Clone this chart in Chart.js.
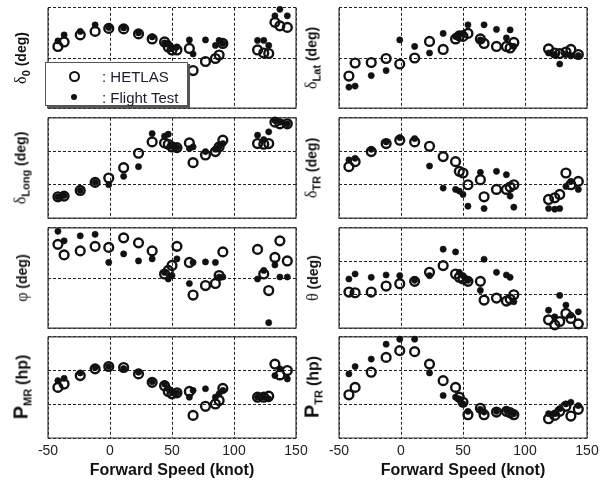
<!DOCTYPE html>
<html>
<head>
<meta charset="utf-8">
<script src="https://cdn.jsdelivr.net/npm/chart.js@4.4.1/dist/chart.umd.min.js"></script>
<style>
  body { margin: 0; background: #fff; }
  #fig { position: relative; width: 607px; height: 483px; overflow: hidden; font-family: "Liberation Sans", Arial, Helvetica, sans-serif; }
  .panel { position: absolute; }
  .ylab { position: absolute; transform: translate(-50%, -50%) rotate(-90deg); white-space: nowrap; color: #111; font-weight: bold; font-size: 14px; line-height: 1; }
  .ylab .sym { font-family: "Liberation Serif", "DejaVu Serif", serif; font-weight: normal; font-size: 16px; }
  .ylab .big { font-size: 20px; }
  .ylab sub { font-size: 11px; vertical-align: -4px; }
  .ylab .unit-hp { font-size: 16px; }
  #legend { position: absolute; left: 45px; top: 62px; width: 141px; height: 42px; background: #fff; border: 1px solid #555; box-shadow: 2px 2px 0 #555; }
  #legend .mk { position: absolute; border-radius: 50%; box-sizing: border-box; }
  #legend .ring { left: 23px; top: 8px; width: 11px; height: 11px; border: 2.4px solid #111; }
  #legend .dot { left: 25px; top: 31px; width: 6px; height: 6px; background: #111; }
  #legend .txt { position: absolute; left: 56px; font-size: 15px; color: #1c1c2c; line-height: 1; }
</style>
</head>
<body>
<div id="fig"></div>
<script>
// forward speed of each test condition (knot)
const speeds = [-42, -37, -24, -12, -1, 11, 23, 34, 44, 47, 50, 54, 64, 67, 77, 85, 88, 91, 119, 124, 128, 133, 137, 143];
const speedTicks = [-50, 0, 50, 100, 150];

// values in grid units (no numbers printed on the y axes)
const delta0Hetlas = [1.23, 1.32, 1.46, 1.53, 1.59, 1.58, 1.48, 1.38, 1.32, 1.22, 1.16, 1.16, 1.19, 0.75, 0.93, 0.99, 1.06, 1.29, 1.16, 1.10, 1.09, 1.71, 1.64, 1.61];
const delta0Flight = [1.34, 1.46, 1.53, 1.66, 1.61, 1.60, 1.50, 1.42, 1.30, 1.29, 1.19, 1.22, 1.36, 1.08, 1.36, 1.25, 1.35, 1.29, 1.35, 1.35, 1.25, 1.84, 1.97, 1.84];

const deltaLatHetlas = [0.64, 0.90, 0.91, 0.99, 0.88, 1.00, 1.33, 1.17, 1.38, 1.44, 1.43, 1.49, 1.38, 1.29, 1.23, 1.23, 1.20, 1.31, 1.18, 1.10, 1.09, 1.12, 1.17, 1.07];
const deltaLatFlight = [0.42, 0.44, 0.65, 0.75, 1.36, 1.23, 1.10, 1.49, 1.43, 1.46, 1.49, 1.66, 1.36, 1.66, 1.57, 1.40, 1.56, 1.23, 1.10, 1.07, 0.88, 1.07, 1.04, 1.05];

const deltaLongHetlas = [0.64, 0.66, 0.83, 1.07, 1.20, 1.51, 1.94, 2.28, 2.25, 2.21, 2.13, 2.11, 2.25, 1.66, 1.89, 1.99, 2.13, 2.33, 2.23, 2.21, 2.23, 2.87, 2.82, 2.82];
const deltaLongFlight = [0.64, 0.68, 0.83, 1.07, 1.00, 1.25, 1.54, 2.53, 2.45, 2.51, 2.15, 2.11, 2.08, 2.13, 1.99, 2.06, 2.13, 2.23, 2.48, 2.35, 2.58, 2.92, 2.87, 2.82];

const deltaTrHetlas = [1.54, 1.69, 1.99, 2.23, 2.33, 2.28, 2.15, 1.84, 1.69, 1.40, 1.35, 1.00, 1.15, 0.64, 0.86, 0.86, 0.93, 1.00, 0.56, 0.61, 0.71, 1.35, 1.00, 1.10];
const deltaTrFlight = [1.74, 1.79, 2.06, 2.28, 2.41, 2.38, 1.56, 0.90, 0.86, 0.81, 0.71, 0.36, 1.37, 0.29, 1.40, 1.30, 0.66, 0.33, 0.29, 0.27, 0.29, 0.95, 1.10, 0.86];

const phiHetlas = [1.67, 1.46, 1.54, 1.63, 1.61, 1.80, 1.70, 1.54, 1.08, 1.15, 1.25, 1.63, 1.31, 0.66, 0.85, 0.89, 1.05, 1.52, 1.57, 1.08, 0.75, 1.41, 1.74, 1.34];
const phiFlight = [1.93, 1.74, 1.84, 1.87, 1.31, 1.48, 1.34, 1.38, 1.11, 0.98, 1.05, 1.38, 0.89, 1.31, 1.32, 1.31, 1.02, 1.02, 0.98, 1.15, 0.11, 1.26, 1.02, 1.02];

const thetaHetlas = [1.08, 1.06, 1.08, 1.26, 1.33, 1.40, 1.67, 1.87, 1.62, 1.52, 1.47, 1.40, 1.40, 0.84, 0.90, 0.81, 0.87, 1.00, 0.25, 0.10, 0.20, 0.44, 0.29, 0.13];
const thetaFlight = [1.47, 1.62, 1.52, 1.59, 1.57, 1.43, 1.57, 2.36, 2.28, 1.67, 1.57, 1.43, 1.13, 2.06, 1.67, 1.59, 1.52, 0.79, 0.54, 0.34, 0.98, 0.69, 0.39, 0.49];

const pmrHetlas = [1.50, 1.60, 1.85, 2.05, 2.12, 2.09, 1.90, 1.65, 1.55, 1.38, 1.31, 1.34, 1.38, 0.67, 0.94, 1.01, 1.11, 1.47, 1.21, 1.21, 1.24, 2.19, 1.87, 2.00];
const pmrFlight = [1.70, 1.77, 1.93, 2.09, 2.12, 2.06, 1.95, 1.67, 1.60, 1.46, 1.36, 1.34, 1.21, 1.41, 1.46, 1.21, 1.31, 1.41, 1.21, 1.21, 1.16, 1.85, 2.05, 1.75];

const ptrHetlas = [1.28, 1.50, 1.95, 2.39, 2.59, 2.56, 2.19, 1.70, 1.50, 1.21, 1.06, 0.69, 0.88, 0.69, 0.77, 0.79, 0.75, 0.69, 0.57, 0.67, 0.79, 0.94, 0.65, 0.85];
const ptrFlight = [1.90, 2.12, 2.34, 2.78, 2.93, 2.93, 1.93, 1.26, 1.21, 1.16, 1.01, 0.79, 0.85, 0.77, 0.79, 0.82, 0.77, 0.72, 0.72, 0.72, 0.87, 1.01, 1.06, 0.96];

const xTitle = "Forward Speed (knot)";
const legendLabels = ["HETLAS", "Flight Test"];

const panels = [
  { row: 0, col: 0, yMax: 2, label: '<span class="sym">δ</span><sub>0</sub> (deg)', hetlas: delta0Hetlas, flight: delta0Flight },
  { row: 0, col: 1, yMax: 2, label: '<span class="sym">δ</span><sub>Lat</sub> (deg)', hetlas: deltaLatHetlas, flight: deltaLatFlight },
  { row: 1, col: 0, yMax: 3, label: '<span class="sym">δ</span><sub>Long</sub> (deg)', hetlas: deltaLongHetlas, flight: deltaLongFlight },
  { row: 1, col: 1, yMax: 3, label: '<span class="sym">δ</span><sub>TR</sub> (deg)', hetlas: deltaTrHetlas, flight: deltaTrFlight },
  { row: 2, col: 0, yMax: 2, label: '<span class="sym">φ</span> (deg)', hetlas: phiHetlas, flight: phiFlight },
  { row: 2, col: 1, yMax: 3, label: '<span class="sym">θ</span> (deg)', hetlas: thetaHetlas, flight: thetaFlight },
  { row: 3, col: 0, yMax: 3, label: '<span class="big">P</span><sub>MR</sub> <span class="unit-hp">(hp)</span>', hetlas: pmrHetlas, flight: pmrFlight },
  { row: 3, col: 1, yMax: 3, label: '<span class="big">P</span><sub>TR</sub> <span class="unit-hp">(hp)</span>', hetlas: ptrHetlas, flight: ptrFlight }
];

const colLeft = [48, 339];
const rowTop = [7, 117, 227, 336];
const plotW = 248, plotH = 102;
const padX = 20, padY = 6, axisH = 45;
const labelX = [22, 313];

// solid frame around the plot area (top row keeps its dashed top line)
const boxPlugin = {
  id: "box",
  beforeDatasetsDraw(chart, args, opts) {
    const { ctx, chartArea: a } = chart;
    ctx.save();
    ctx.strokeStyle = "#3a3a3a";
    ctx.lineWidth = 1.2;
    ctx.beginPath();
    ctx.moveTo(a.left, a.top);
    ctx.lineTo(a.left, a.bottom);
    ctx.lineTo(a.right, a.bottom);
    ctx.lineTo(a.right, a.top);
    if (!opts.openTop) ctx.lineTo(a.left, a.top);
    ctx.stroke();
    ctx.restore();
  }
};

function toPoints(ys) {
  return speeds.map((s, i) => ({ x: s, y: ys[i] }));
}

function buildPanel(p) {
  const fig = document.getElementById("fig");
  const bottomRow = p.row === 3;
  const wrap = document.createElement("div");
  wrap.className = "panel";
  wrap.style.left = (colLeft[p.col] - padX) + "px";
  wrap.style.top = (rowTop[p.row] - padY) + "px";
  wrap.style.width = (plotW + 2 * padX) + "px";
  wrap.style.height = (plotH + padY + (bottomRow ? axisH : padY)) + "px";
  const canvas = document.createElement("canvas");
  wrap.appendChild(canvas);
  fig.appendChild(wrap);

  const lab = document.createElement("div");
  lab.className = "ylab";
  lab.innerHTML = p.label;
  lab.style.left = labelX[p.col] + "px";
  lab.style.top = (rowTop[p.row] + plotH / 2) + "px";
  fig.appendChild(lab);

  new Chart(canvas.getContext("2d"), {
    type: "scatter",
    data: {
      datasets: [
        {
          label: legendLabels[1],
          data: toPoints(p.flight),
          pointStyle: "circle",
          pointRadius: 3.1,
          pointBorderWidth: 0.6,
          pointBackgroundColor: "#111",
          pointBorderColor: "#111",
          clip: false
        },
        {
          label: legendLabels[0],
          data: toPoints(p.hetlas),
          pointStyle: "circle",
          pointRadius: 4.4,
          pointBorderWidth: 2.4,
          pointBackgroundColor: "rgba(0,0,0,0)",
          pointBorderColor: "#111",
          clip: false
        }
      ]
    },
    options: {
      responsive: true,
      maintainAspectRatio: false,
      animation: false,
      events: [],
      layout: { padding: { left: padX, right: padX, top: padY, bottom: bottomRow ? 0 : padY } },
      plugins: {
        legend: { display: false },
        tooltip: { enabled: false },
        box: { openTop: p.row === 0 }
      },
      scales: {
        x: {
          type: "linear",
          min: -50,
          max: 150,
          afterBuildTicks: s => { s.ticks = speedTicks.map(v => ({ value: v })); },
          grid: { color: "#222", lineWidth: 1, drawTicks: false },
          border: { display: false, dash: [3, 2] },
          ticks: { display: bottomRow, padding: 5, color: "#222", font: { size: 14, family: "'Liberation Sans', Arial" }, maxRotation: 0, autoSkip: false },
          title: { display: bottomRow, text: xTitle, color: "#111", font: { size: 16, weight: "bold", family: "'Liberation Sans', Arial" }, padding: { top: 0, bottom: 3 } },
          afterFit: s => { s.height = bottomRow ? axisH : 0; }
        },
        y: {
          min: 0,
          max: p.yMax,
          ticks: { display: false, stepSize: 1 },
          grid: { color: "#222", lineWidth: 1, drawTicks: false },
          border: { display: false, dash: [3, 2] },
          afterFit: s => { s.width = 0; }
        }
      }
    },
    plugins: [boxPlugin]
  });
}

function buildLegend() {
  const lg = document.createElement("div");
  lg.id = "legend";
  lg.innerHTML =
    '<span class="mk ring"></span><span class="txt" style="top:6px">: ' + legendLabels[0] + '</span>' +
    '<span class="mk dot"></span><span class="txt" style="top:27px">: ' + legendLabels[1] + '</span>';
  document.getElementById("fig").appendChild(lg);
}

panels.forEach(buildPanel);
buildLegend();
</script>
</body>
</html>
